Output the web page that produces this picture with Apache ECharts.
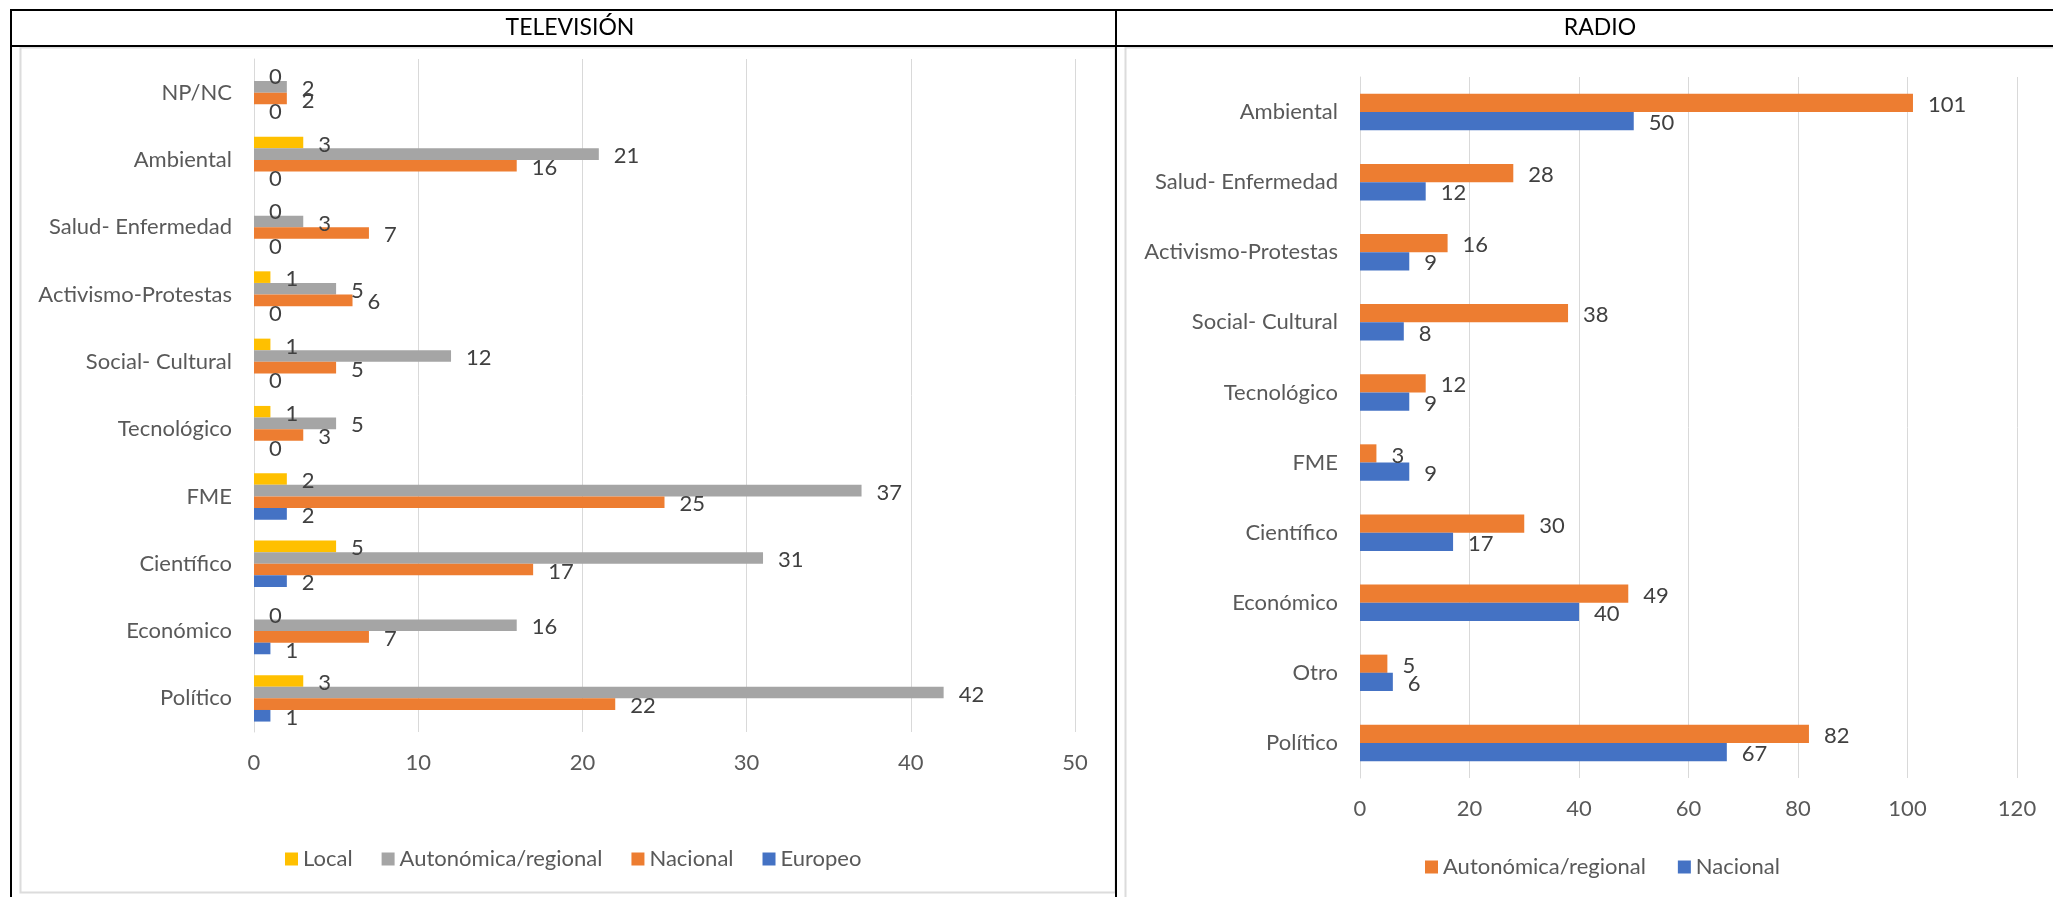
<!DOCTYPE html>
<html>
<head>
<meta charset="utf-8">
<script src="https://cdn.jsdelivr.net/npm/echarts@6.0.0/dist/echarts.min.js"></script>
<style>
  html, body { margin: 0; padding: 0; background: #ffffff; }
  #chart { width: 2053px; height: 897px; }
</style>
</head>
<body>
<div id="chart"></div>
<script>
// ---- Televisión (categories listed from the bottom of the axis upwards) ----
const tvCategories = ['Político', 'Económico', 'Científico', 'FME', 'Tecnológico',
  'Social- Cultural', 'Activismo-Protestas', 'Salud- Enfermedad', 'Ambiental', 'NP/NC'];
const tvLocal      = [3, 0, 5, 2, 1, 1, 1, 0, 3, 0];
const tvAutonomica = [42, 16, 31, 37, 5, 12, 5, 3, 21, 2];
const tvNacional   = [22, 7, 17, 25, 3, 5, 6, 7, 16, 2];
const tvEuropeo    = [1, 1, 2, 2, 0, 0, 0, 0, 0, 0];
const tvAxisMax = 50;
const tvAxisStep = 10;

// ---- Radio (categories listed from the bottom of the axis upwards) ----
const radioCategories = ['Político', 'Otro', 'Económico', 'Científico', 'FME',
  'Tecnológico', 'Social- Cultural', 'Activismo-Protestas', 'Salud- Enfermedad', 'Ambiental'];
const radioAutonomica = [82, 5, 49, 30, 3, 12, 38, 16, 28, 101];
const radioNacional   = [67, 6, 40, 17, 9, 9, 8, 9, 12, 50];
const radioAxisMax = 120;
const radioAxisStep = 20;

const tvHeader = 'TELEVISIÓN';
const radioHeader = 'RADIO';

const FONT = 'Lato';
const C_LOCAL = '#FFC000';
const C_GRAY = '#A5A5A5';
const C_ORANGE = '#ED7D31';
const C_BLUE = '#4472C4';
const GRID_COLOR = '#D9D9D9';
const AXIS_TEXT = '#595959';
const LABEL_TEXT = '#404040';
const FS = 22;

function valueAxis(gridIndex, max, step) {
  return {
    type: 'value', gridIndex, min: 0, max, interval: step,
    axisLine: { show: false }, axisTick: { show: false },
    splitLine: { show: true, showMinLine: true, showMaxLine: true,
      lineStyle: { color: GRID_COLOR, width: 1 } },
    axisLabel: { color: AXIS_TEXT, fontSize: FS, fontFamily: FONT, margin: 20 }
  };
}

function categoryAxis(gridIndex, data) {
  return {
    type: 'category', gridIndex, data,
    axisLine: { show: true, lineStyle: { color: GRID_COLOR, width: 1 } },
    axisTick: { show: false },
    splitLine: { show: false },
    axisLabel: { color: AXIS_TEXT, fontSize: FS, fontFamily: FONT, margin: 22 }
  };
}

function barSeries(name, data, color, axisIndex, catGap) {
  return {
    type: 'bar', name, data,
    xAxisIndex: axisIndex, yAxisIndex: axisIndex,
    barGap: '0%', barCategoryGap: catGap,
    itemStyle: { color },
    label: {
      show: true, position: 'right', distance: 15, offset: [0, 2],
      color: LABEL_TEXT, fontSize: FS, fontFamily: FONT
    }
  };
}

function legendItem(name, color) {
  return { name, icon: 'rect', itemStyle: { color } };
}

const legendText = { color: AXIS_TEXT, fontSize: FS, fontFamily: FONT };

const option = {
  animation: false,
  backgroundColor: '#ffffff',
  grid: [
    { left: 254, top: 59, width: 821, height: 673, containLabel: false, outerBoundsMode: 'none' },
    { left: 1360, top: 77, width: 657, height: 701, containLabel: false, outerBoundsMode: 'none' }
  ],
  xAxis: [
    valueAxis(0, tvAxisMax, tvAxisStep),
    valueAxis(1, radioAxisMax, radioAxisStep)
  ],
  yAxis: [
    categoryAxis(0, tvCategories),
    categoryAxis(1, radioCategories)
  ],
  legend: [
    {
      left: 280, top: 843, itemWidth: 13, itemHeight: 13, itemGap: 29,
      textStyle: legendText, selectedMode: false,
      data: [
        legendItem('Local', C_LOCAL),
        legendItem('Autonómica/regional', C_GRAY),
        legendItem('Nacional', C_ORANGE),
        legendItem('Europeo', C_BLUE)
      ]
    },
    {
      left: 1420, top: 851, itemWidth: 13, itemHeight: 13, itemGap: 32,
      textStyle: legendText, selectedMode: false,
      data: [
        legendItem('Autonómica/regional', C_ORANGE),
        legendItem('Nacional', C_BLUE)
      ]
    }
  ],
  series: [
    // Televisión: the first series sits at the top of each category group
    barSeries('Local', tvLocal, C_LOCAL, 0, '31%'),
    barSeries('Autonómica/regional', tvAutonomica, C_GRAY, 0, '31%'),
    barSeries('Nacional', tvNacional, C_ORANGE, 0, '31%'),
    barSeries('Europeo', tvEuropeo, C_BLUE, 0, '31%'),
    // Radio
    barSeries('Autonómica/regional', radioAutonomica, C_ORANGE, 1, '48%'),
    barSeries('Nacional', radioNacional, C_BLUE, 1, '48%')
  ],
  graphic: [
    // chart panels
    { type: 'rect', z: -10, shape: { x: 20.5, y: 47.5, width: 1095, height: 845 },
      style: { fill: '#ffffff', stroke: '#DCDCDC', lineWidth: 2 } },
    { type: 'rect', z: -10, shape: { x: 1125.5, y: 47.5, width: 1000, height: 900 },
      style: { fill: '#ffffff', stroke: '#DCDCDC', lineWidth: 2 } },
    // table rules
    { type: 'line', z: 10, shape: { x1: 10, y1: 10, x2: 2053, y2: 10 }, style: { stroke: '#000', lineWidth: 2 } },
    { type: 'line', z: 10, shape: { x1: 10, y1: 46, x2: 2053, y2: 46 }, style: { stroke: '#000', lineWidth: 2 } },
    { type: 'line', z: 10, shape: { x1: 11, y1: 9, x2: 11, y2: 897 }, style: { stroke: '#000', lineWidth: 2 } },
    { type: 'line', z: 10, shape: { x1: 1116, y1: 9, x2: 1116, y2: 897 }, style: { stroke: '#000', lineWidth: 2 } },
    // column headers
    { type: 'text', z: 10, x: 570, y: 28,
      style: { text: tvHeader, fill: '#000', fontSize: 23, fontFamily: FONT, align: 'center', verticalAlign: 'middle' } },
    { type: 'text', z: 10, x: 1600, y: 28,
      style: { text: radioHeader, fill: '#000', fontSize: 23, fontFamily: FONT, align: 'center', verticalAlign: 'middle' } }
  ]
};

const chart = echarts.init(document.getElementById('chart'), null, { renderer: 'canvas' });
chart.setOption(option);
</script>
</body>
</html>
